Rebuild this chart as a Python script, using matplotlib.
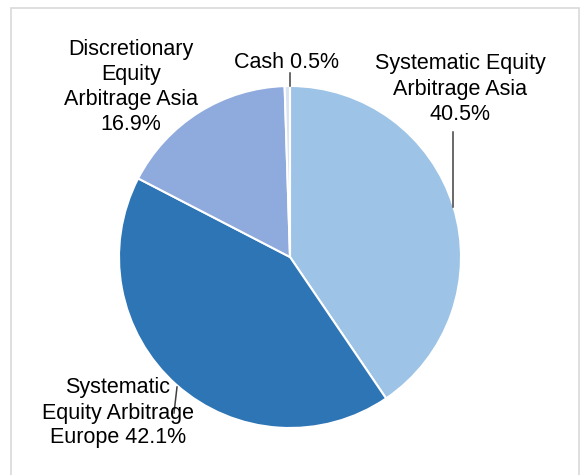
import matplotlib
matplotlib.use("Agg")
import matplotlib.pyplot as plt
from matplotlib.patches import Rectangle

categories = [
    "Systematic Equity\nArbitrage Asia",
    "Systematic\nEquity Arbitrage\nEurope",
    "Discretionary\nEquity\nArbitrage Asia",
    "Cash",
]
shares = [40.5, 42.1, 16.9, 0.5]
colors = ["#9DC3E6", "#2E75B6", "#8FAADC", "#DAE3F3"]

W, H = 585, 475
plt.rcParams["font.family"] = ["Liberation Sans", "DejaVu Sans"]

fig = plt.figure(figsize=(W / 100, H / 100), dpi=100)
ax = fig.add_axes([0, 0, 1, 1])
ax.set_xlim(0, W)
ax.set_ylim(0, H)
ax.set_aspect("equal")
ax.axis("off")


def py(y):
    # pixel row (from top) -> data y
    return H - y


# outer chart border
ax.add_patch(Rectangle((11, py(490)), 568, 482, fill=False,
                       edgecolor="#D9D9D9", linewidth=1.2))

ax.pie(shares, colors=colors, startangle=90, counterclock=False,
       center=(290, py(257)), radius=171,
       wedgeprops=dict(edgecolor="white", linewidth=1.5))
ax.set_xlim(0, W)
ax.set_ylim(0, H)

label_text = [
    f"{categories[0]}\n{shares[0]}%",
    f"{categories[1]} {shares[1]}%",
    f"{categories[2]}\n{shares[2]}%",
    f"{categories[3]} {shares[3]}%",
]
label_pos = [(460, 89), (118, 413), (131, 87), (286, 62)]
for txt, (x, y) in zip(label_text, label_pos):
    ax.text(x, py(y), txt, ha="center", va="center", fontsize=15.5,
            linespacing=1.25, color="black")

# leader lines
leaders = [((453, 132), (453, 207)), ((177, 387), (174, 413)), ((290, 73), (290, 86))]
for (x0, y0), (x1, y1) in leaders:
    ax.plot([x0, x1], [py(y0), py(y1)], color="#404040", linewidth=1.1)

fig.savefig("out.png", dpi=100)
